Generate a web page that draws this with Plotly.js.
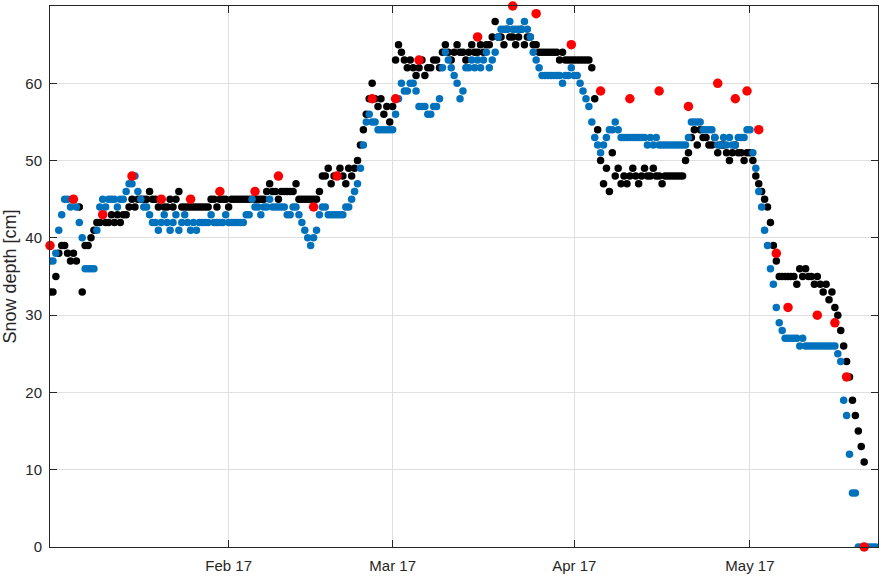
<!DOCTYPE html>
<html>
<head>
<meta charset="utf-8">
<script src="https://cdn.plot.ly/plotly-3.0.1.min.js"></script>
<style>body{margin:0;background:#fff}</style>
</head>
<body>
<div id="chart" style="width:880px;height:576px"></div>
<script>
// sensor series: one value every 12 h, starting 1 Jan 2017 12:00
var sampleStart = Date.UTC(2017, 0, 1, 12);
var sampleStepHours = 12;

// black sensor (integer cm)
var blackDepth = [
  33,33, 35,38, 39,39, 38,37, 38,37, 44,33, 39,39, 40,41, 42,42, 43,42,
  42,43, 42,43, 42,43, 43,44, 45,44, 45,45, 45,45, 46,45, 45,44, 45,44,
  44,45, 44,45, 46,44, 44,44, 44,44, 44,44, 44,44, 44,45, 45,44, 45,45,
  45,44, 45,45, 45,45, 45,45, 45,45, 45,45, 45,45, 46,47, 46,46, 45,46,
  46,46, 46,46, 47,45, 45,45, 45,45, 45,45, 46,48, 48,49, 47,48, 48,49,
  48,47, 49,48, 49,50, 52,54, 56,58, 60,58, 57,58, 56,57, 55,57, 63,65,
  64,63, 62,63, 62,61, 62,63, 61,62, 62,63, 63,62, 64,65, 64,63, 64,65,
  64,64, 63,64, 65,64, 64,65, 64,65, 65,66, 68,66, 66,65, 67,66, 66,65,
  66,67, 65,66, 66,65, 65,64, 64,64, 64,64, 64,64, 63,64, 63,63, 63,63,
  63,63, 63,63, 63,62, 58,54, 50,47, 49,46, 51,48, 49,47, 48,47, 48,49,
  48,47, 48,49, 48,48, 49,48, 48,47, 48,48, 48,48, 48,48, 48,50, 51,53,
  54,52, 54,53, 53,52, 52,53, 51,52, 52,51, 50,51, 52,51, 51,50, 51,51,
  50,48, 47,46, 45,44, 42,39, 37,35, 35,35, 35,35, 35,34, 36,35, 36,35,
  35,34, 35,34, 33,34, 32,33, 31,30, 28,26, 24,22, 19,17, 15,13, 11
];

// blue sensor
var blueDepth = [
  37,37, 38,41, 43,45, 45,44, 45,44, 42,40, 36,36, 36,36, 41,44, 45,44,
  45,45, 45,44, 45,45, 46,47, 47,48, 46,45, 44,44, 43,42, 42,41, 42,43,
  42,41, 42,43, 41,42, 43,42, 41,42, 41,42, 42,42, 42,43, 42,42, 42,42,
  43,42, 42,42, 42,42, 42,43, 43,45, 44,44, 43,44, 44,45, 44,44, 44,44,
  44,43, 43,44, 44,43, 42,41, 40,39, 40,41, 43,44, 44,43, 43,43, 43,43,
  43,44, 44,45, 46,47, 49,52, 55,56, 55,55, 54,54, 54,54, 54,54, 56,58,
  60,59, 59,60, 60,59, 57,57, 57,56, 56,57, 57,58, 62,64, 63,62, 61,60,
  58,59, 62,62, 63,62, 63,62, 63,64, 62,63, 64,66, 67,67, 67,68, 67,67,
  67,67, 68,67, 66,64, 63,62, 61,61, 61,61, 61,61, 61,60, 61,61, 62,61,
  61,60, 59,58, 57,55, 53,52, 51,52, 53,54, 54,55, 54,53, 53,53, 53,53,
  53,53, 53,53, 52,53, 52,53, 52,52, 52,52, 52,52, 52,52, 52,52, 53,55,
  55,55, 55,54, 54,54, 54,53, 52,52, 53,52, 53,52, 52,53, 53,53, 54,54,
  51,49, 46,44, 41,39, 36,34, 31,29, 28,27, 27,27, 27,27, 26,27, 26,26,
  26,26, 26,26, 26,26, 26,26, 26,25, 24,19, 17,12, 7,7, 0,0, 0,0,
  0,0, 0
];

// manual measurements (red)
var manualDates = [
  '2017-01-01 12:00', '2017-01-05 12:00', '2017-01-10 12:00', '2017-01-15 12:00',
  '2017-01-20 12:00', '2017-01-25 12:00', '2017-01-30 12:00', '2017-02-05 12:00',
  '2017-02-09 12:00', '2017-02-15 12:00', '2017-02-19 12:00', '2017-02-25 12:00',
  '2017-03-01 12:00', '2017-03-05 12:00', '2017-03-15 12:00', '2017-03-21 12:00',
  '2017-03-25 12:00', '2017-03-31 12:00', '2017-04-05 12:00', '2017-04-10 12:00',
  '2017-04-15 12:00', '2017-04-20 12:00', '2017-04-25 12:00', '2017-04-28 12:00',
  '2017-04-30 12:00', '2017-05-02 12:00', '2017-05-05 12:00', '2017-05-07 12:00',
  '2017-05-12 12:00', '2017-05-15 12:00', '2017-05-17 12:00', '2017-05-20 12:00'
];
var manualDepth = [
  39, 45, 43, 48, 45, 45, 46, 46, 48, 44, 48, 58, 58, 63, 66, 70,
  69, 65, 59, 58, 59, 57, 60, 58, 59, 54, 38, 31, 30, 29, 22, 0
];

var tickDates = ['2017-02-01', '2017-03-01', '2017-04-01', '2017-05-01'];
var tickLabels = ['Feb 17', 'Mar 17', 'Apr 17', 'May 17'];

function sampleTimes(n) {
  var t = [];
  for (var i = 0; i < n; i++) t.push(sampleStart + i * sampleStepHours * 3600000);
  return t;
}

var axisColor = '#262626';
var gridColor = '#dfdfdf';
var fontFamily = 'Liberation Sans, Arial, sans-serif';

var black = {
  x: sampleTimes(blackDepth.length),
  y: blackDepth,
  mode: 'markers',
  type: 'scatter',
  name: 'black',
  marker: {size: 7.5, color: '#000000', line: {width: 0}}
};

var blue = {
  x: sampleTimes(blueDepth.length),
  y: blueDepth,
  mode: 'markers',
  type: 'scatter',
  name: 'blue',
  marker: {size: 7.5, color: '#0072BD', line: {width: 0}}
};

var manual = {
  x: manualDates,
  y: manualDepth,
  mode: 'markers',
  type: 'scatter',
  name: 'manual',
  marker: {size: 9.5, color: '#FF0000', line: {width: 0}},
  cliponaxis: false
};

var layout = {
  width: 880,
  height: 576,
  margin: {l: 50, r: 2, t: 6, b: 29},
  paper_bgcolor: '#ffffff',
  plot_bgcolor: '#ffffff',
  showlegend: false,
  font: {family: fontFamily, size: 15, color: axisColor},
  xaxis: {
    type: 'date',
    range: ['2017-01-01 12:00', '2017-05-22 20:40'],
    tickvals: tickDates,
    ticktext: tickLabels,
    ticks: 'inside',
    ticklen: 7,
    tickcolor: axisColor,
    ticklabelstandoff: 5,
    showline: true,
    linecolor: axisColor,
    linewidth: 1,
    mirror: 'ticks',
    showgrid: true,
    gridcolor: gridColor,
    zeroline: false,
    tickfont: {size: 15, color: axisColor}
  },
  yaxis: {
    range: [0, 70],
    dtick: 10,
    ticks: 'inside',
    ticklen: 7,
    tickcolor: axisColor,
    ticklabelstandoff: 4,
    showline: true,
    linecolor: axisColor,
    linewidth: 1,
    mirror: 'ticks',
    showgrid: true,
    gridcolor: gridColor,
    zeroline: false,
    tickfont: {size: 15, color: axisColor},
    title: {text: 'Snow depth [cm]', font: {size: 18, color: axisColor}, standoff: 4}
  }
};

Plotly.newPlot('chart', [black, blue, manual], layout, {displayModeBar: false, staticPlot: true});
</script>
</body>
</html>
